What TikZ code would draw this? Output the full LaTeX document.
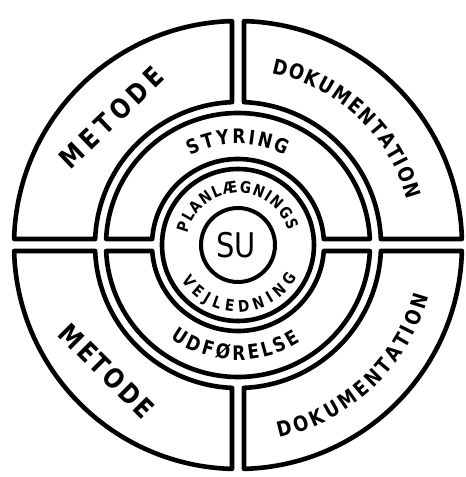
\documentclass[tikz,border=0pt]{standalone}
\usepackage{fontspec}
\setmainfont{DejaVu Sans}[FakeStretch=0.85]
\usetikzlibrary{decorations.text}
\tikzset{
  ring/.style={draw=black, line width=4.6pt, line join=round},
  arctext/.style={decorate, decoration={text along path, text align=fit to path, text={#1}}}
}
\begin{document}
\begin{tikzpicture}[x=1pt,y=1pt]
\useasboundingbox (-238,-232) rectangle (228,245);
\fill[white] (-238,-232) rectangle (228,245);
% outer quadrants
\draw[ring] (1.535:224pt) arc[start angle=1.535, end angle=88.465, radius=224pt]
  -- (87.595:143pt) arc[start angle=87.595, end angle=2.405, radius=143pt] -- cycle;
\draw[ring] (91.535:224pt) arc[start angle=91.535, end angle=178.465, radius=224pt]
  -- (177.595:143pt) arc[start angle=177.595, end angle=92.405, radius=143pt] -- cycle;
\draw[ring] (181.535:224pt) arc[start angle=181.535, end angle=268.465, radius=224pt]
  -- (267.595:143pt) arc[start angle=267.595, end angle=182.405, radius=143pt] -- cycle;
\draw[ring] (271.535:224pt) arc[start angle=271.535, end angle=358.465, radius=224pt]
  -- (357.595:143pt) arc[start angle=357.595, end angle=272.405, radius=143pt] -- cycle;
% middle halves
\draw[ring] (2.605:132pt) arc[start angle=2.605, end angle=177.395, radius=132pt]
  -- (176:86pt) arc[start angle=176, end angle=4, radius=86pt] -- cycle;
\draw[ring] (182.605:132pt) arc[start angle=182.605, end angle=357.395, radius=132pt]
  -- (356:86pt) arc[start angle=356, end angle=184, radius=86pt] -- cycle;
% inner circles
\draw[ring] (0,0) circle[radius=76pt];
\draw[ring, line width=4pt] (0,0) circle[radius=37pt];
\node[font=\fontsize{34}{34}\selectfont, inner sep=0pt] (su) at (-2,0) {SU};
% outer ring labels
\path[arctext={|\fontsize{27}{27}\selectfont\bfseries|METODE}] (-167,75) -- (-72,166);
\path[arctext={|\fontsize{27}{27}\selectfont\bfseries|METODE}] (-181,-90) -- (-95,-176);
\path[arctext={|\fontsize{21}{21}\selectfont\bfseries|DOKUMENTATION}] (79:175pt) arc[start angle=79, end angle=15, radius=175pt];
\path[arctext={|\fontsize{21}{21}\selectfont\bfseries|DOKUMENTATION}] (-78:197pt) arc[start angle=-78, end angle=-15, radius=197pt];
% middle ring labels
\path[arctext={|\fontsize{20}{20}\selectfont\bfseries|STYRING}] (118:101pt) arc[start angle=118, end angle=62, radius=101pt];
\path[arctext={|\fontsize{20}{20}\selectfont\bfseries|UDFØRELSE}] (234:115pt) arc[start angle=234, end angle=303, radius=115pt];
% inner ring labels
\path[arctext={|\fontsize{16}{16}\selectfont\bfseries|PLANLÆGNINGS}] (167:52pt) arc[start angle=167, end angle=16, radius=52pt];
\path[arctext={|\fontsize{16}{16}\selectfont\bfseries|VEJLEDNING}] (212:67pt) arc[start angle=212, end angle=331, radius=67pt];
\end{tikzpicture}
\end{document}
